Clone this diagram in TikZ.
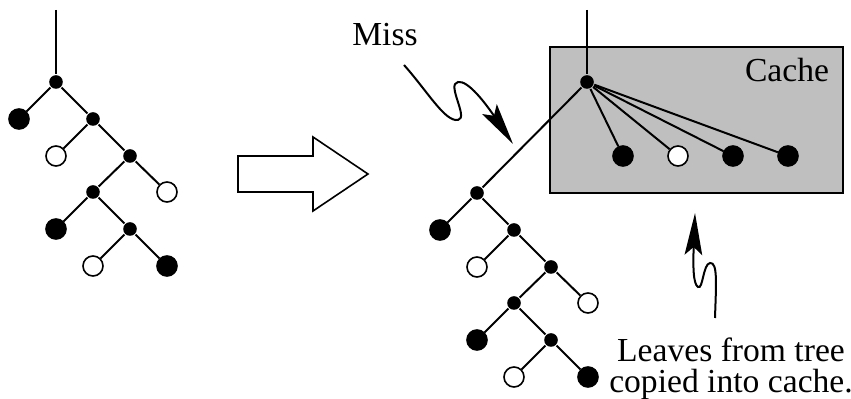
\documentclass[tikz,border=0pt]{standalone}
\usepackage{fontspec}
\setmainfont{Liberation Serif}
\usepackage{tikz}
\usetikzlibrary{arrows.meta}
\usetikzlibrary{positioning}
\definecolor{cachegray}{gray}{0.75}
\tikzstyle{knot} = [circle, fill=black, inner sep=0pt, minimum size=6.8pt]
\tikzstyle{blackleaf} = [circle, draw, fill=black, line width=0.8pt, inner sep=0pt, minimum size=10pt]
\tikzstyle{whiteleaf} = [circle, draw, fill=white, line width=0.8pt, inner sep=0pt, minimum size=10pt]
\tikzstyle{squiggle} = [-{Stealth[length=21pt, width=8.8pt, inset=4pt]}, line width=1pt]

% the unbalanced tree that hangs below a top node n1
\newcommand{\leaftree}{
\node [knot] (n1) at (56,82) {};
\node [knot] (n2) at (93,119) {};
\node [knot] (n3) at (130,156) {};
\node [knot] (n4) at (93,192) {};
\node [knot] (n5) at (130,229) {};
\node [blackleaf] (l1) at (19,119) {};
\node [whiteleaf] (l2) at (56,156) {};
\node [whiteleaf] (l3) at (167,192) {};
\node [blackleaf] (l4) at (56,229) {};
\node [whiteleaf] (l5) at (93,266) {};
\node [blackleaf] (l6) at (167,266) {};
\draw (n1) -- (l1);
\draw (n1) -- (n2);
\draw (n2) -- (l2);
\draw (n2) -- (n3);
\draw (n3) -- (n4);
\draw (n3) -- (l3);
\draw (n4) -- (l4);
\draw (n4) -- (n5);
\draw (n5) -- (l5);
\draw (n5) -- (l6);
}

\begin{document}
\begin{tikzpicture}[x=0.5pt, y=-0.5pt, line width=1pt,
  font=\fontsize{16.8}{15.5}\selectfont]
\useasboundingbox (0,0) rectangle (851,399);

% tree before the lookup
\begin{scope}[name prefix=a-]
\leaftree
\end{scope}
\coordinate (atop) at (56,10);
\draw (atop) -- (a-n1);

% hollow arrow in between
\draw [line width=0.8pt] (238,156) -- (313,156) -- (313,137) -- (368,174)
  -- (313,211) -- (313,192) -- (238,192) -- cycle;

% cache with the copied leaves
\draw [fill=cachegray] (550,47) rectangle (843,193);
\node [anchor=base] (cachelabel) at (787,82) {Cache};
\node [knot] (c0) at (587,82) {};
\node [blackleaf] (c1) at (623,156) {};
\node [whiteleaf] (c2) at (678,156) {};
\node [blackleaf] (c3) at (733,156) {};
\node [blackleaf] (c4) at (788,156) {};
\coordinate (ctop) at (587,10);
\draw (ctop) -- (c0);
\draw (c0) -- (c1);
\draw (c0) -- (c2);
\draw (c0) -- (c3);
\draw (c0) -- (c4);

% tree after the miss
\begin{scope}[shift={(421,111)}, name prefix=b-]
\leaftree
\end{scope}
\draw (c0) -- (b-n1);

% labels
\node [anchor=base] (miss) at (385,46) {Miss};
\coordinate (missfrom) at (404,65);
\coordinate (missto) at (513,144);
\draw [squiggle] (missfrom) .. controls (428,92) and (445,122) .. (458,120)
  .. controls (469,118) and (446,84) .. (458,82)
  .. controls (468,80) and (486,104) .. (missto);

% a multi-line node sits on its last baseline
\node [anchor=base, align=center] (leaves) at (731,393) {Leaves from tree\\copied into cache.};
\coordinate (leavesfrom) at (715,318);
\coordinate (leavesto) at (695,213);
\draw [squiggle] (leavesfrom) .. controls (716,285) and (718,262) .. (710,263)
  .. controls (703,264) and (703,290) .. (698,287)
  .. controls (693,284) and (693,265) .. (leavesto);
\end{tikzpicture}
\end{document}
